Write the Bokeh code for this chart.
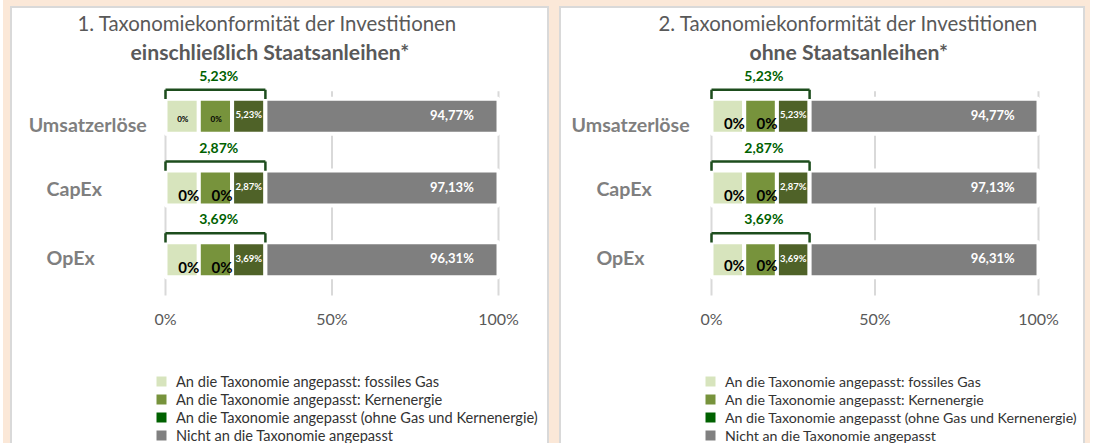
import numpy as np
from bokeh.plotting import figure
from bokeh.models import (Range1d, FactorRange, LinearAxis, FixedTicker, PrintfTickFormatter,
                          ColumnDataSource, Title, Legend, LegendItem)
from bokeh.transform import dodge
from bokeh.layouts import row, column
from bokeh.embed import file_html
from bokeh.resources import INLINE
from bokeh.core.properties import value

# ---------------- data ----------------
categories = ["Umsatzerlöse", "CapEx", "OpEx"]

# 1. incl. sovereign bonds
gas_1 = [0.0, 0.0, 0.0]
nuclear_1 = [0.0, 0.0, 0.0]
other_aligned_1 = [5.23, 2.87, 3.69]
not_aligned_1 = [94.77, 97.13, 96.31]

# 2. excl. sovereign bonds
gas_2 = [0.0, 0.0, 0.0]
nuclear_2 = [0.0, 0.0, 0.0]
other_aligned_2 = [5.23, 2.87, 3.69]
not_aligned_2 = [94.77, 97.13, 96.31]

series_names = [
    "An die Taxonomie angepasst: fossiles Gas",
    "An die Taxonomie angepasst: Kernenergie",
    "An die Taxonomie angepasst (ohne Gas und Kernenergie)",
    "Nicht an die Taxonomie angepasst",
]
tick_values = [0, 50, 100]
title_1 = ["1. Taxonomiekonformität der Investitionen", "einschließlich Staatsanleihen*"]
title_2 = ["2. Taxonomiekonformität der Investitionen", "ohne Staatsanleihen*"]

# ---------------- style ----------------
FONT = "Lato"
PEACH = "#FBE8D8"
FRAME_GREY = "#D9D9D9"
BAR_COLORS = ["#D7E4BD", "#77933C", "#4F6228", "#7F7F7F"]
LEGEND_COLORS = ["#D7E4BD", "#77933C", "#006100", "#808080"]
GREEN_TXT = "#006100"
BRACKET = "#1D4D1D"
SEG_SPAN = [10, 10, 10, 70]   # stylised drawn width of each stacked segment
CHART_H = 330
LEGEND_H = 105


def fmt(v):
    return "0%" if v == 0 else f"{v:.2f}".replace(".", ",") + "%"


def build(series, titles, cfg):
    canvas_left, canvas_w = cfg["canvas_left"], cfg["canvas_w"]
    zero_px, hundred_px = cfg["zero_px"], cfg["hundred_px"]
    scale = (hundred_px - zero_px) / 100.0
    fl, fr = canvas_left + 6, canvas_left + canvas_w - 6
    x_range = Range1d((fl - zero_px) / scale, (fr - zero_px) / scale)
    y_range = FactorRange(factors=list(reversed(categories)), range_padding=0.18,
                          range_padding_units="absolute")
    p = figure(width=canvas_w, height=CHART_H, x_range=x_range, y_range=y_range,
               x_axis_type=None, y_axis_type=None, output_backend="svg",
               toolbar_location=None, min_border_left=6, min_border_right=6,
               min_border_top=58, min_border_bottom=CHART_H - 58 - 242,
               background_fill_color="white", border_fill_color="white",
               outline_line_color=None, margin=(2, 2, 0, 2),
               styles={"background-color": "white"})

    # titles (first added sits closest to the plot)
    p.add_layout(Title(text=titles[1], align="left", offset=cfg["title_off"][1],
                       text_font=FONT, text_font_size="21.2px", text_font_style="bold",
                       text_color="#595959", standoff=5), "above")
    p.add_layout(Title(text=titles[0], align="left", offset=cfg["title_off"][0],
                       text_font=FONT, text_font_size="20.4px", text_font_style="normal",
                       text_color="#595959", standoff=0), "above")

    # x axis (labels only)
    ax = LinearAxis(ticker=FixedTicker(ticks=tick_values),
                    formatter=PrintfTickFormatter(format="%d%%"),
                    axis_line_color=None, major_tick_line_color=None,
                    minor_tick_line_color=None, major_tick_out=0, major_tick_in=0,
                    major_label_standoff=0, major_label_text_font=FONT,
                    major_label_text_font_size="16px", major_label_text_color="#595959")
    p.add_layout(ax, "below")

    # vertical gridlines
    gsrc = ColumnDataSource(dict(x=tick_values, top=[categories[0]] * len(tick_values),
                                 bot=[categories[-1]] * len(tick_values)))
    p.segment(x0="x", x1="x", y0=dodge("top", 0.35, range=y_range),
              y1=dodge("bot", -0.5, range=y_range), source=gsrc,
              line_color=FRAME_GREY, line_width=2)

    edges = np.concatenate([[0], np.cumsum(SEG_SPAN)]).tolist()
    for k, vals in enumerate(series):
        src = ColumnDataSource(dict(cat=categories, left=[edges[k]] * 3,
                                    right=[edges[k + 1]] * 3))
        p.hbar(y="cat", left="left", right="right", height=0.49, source=src,
               fill_color=BAR_COLORS[k], line_color="white", line_width=4)

    # zero labels in gas / nuclear segments
    for k in (0, 1):
        vals = series[k]
        sizes = list(cfg["zero_size"])
        big = [s != "8px" for s in sizes]
        src = ColumnDataSource(dict(
            cat=categories,
            x=[edges[k] + (7 if b else 5.2) for b in big],
            lab=[fmt(v) for v in vals],
            size=sizes,
            yoff=list(cfg["zero_yoff"])))
        p.text(x="x", y="cat", text="lab", source=src, text_font=value(FONT),
               text_font_size="size", text_font_style="bold", text_color="black",
               text_align="center", text_baseline="middle", y_offset="yoff")

    # other aligned label (dark segment)
    src = ColumnDataSource(dict(cat=categories, x=[(edges[2] + edges[3]) / 2] * 3,
                                lab=[fmt(v) for v in series[2]]))
    p.text(x="x", y=dodge("cat", 0.02, range=y_range), text="lab", source=src,
           text_font=value(FONT), text_font_size="9.5px", text_font_style="bold",
           text_color="white", text_align="center", text_baseline="middle")

    # not aligned label
    src = ColumnDataSource(dict(cat=categories, x=[edges[4] - 14] * 3,
                                lab=[fmt(v) for v in series[3]]))
    p.text(x="x", y=dodge("cat", 0.02, range=y_range), text="lab", source=src,
           text_font=value(FONT), text_font_size="13px", text_font_style="bold",
           text_color="white", text_align="center", text_baseline="middle")

    # brackets over the aligned part + total aligned share
    total_aligned = [g + n + o for g, n, o in zip(series[0], series[1], series[2])]
    bsrc = ColumnDataSource(dict(cat=categories, x0=[edges[0]] * 3, x1=[edges[3]] * 3,
                                 xm=[edges[3] / 2 + 1] * 3,
                                 lab=[fmt(v) for v in total_aligned]))
    top = dodge("cat", 0.37, range=y_range)
    leg = dodge("cat", 0.24, range=y_range)
    p.segment(x0="x0", x1="x1", y0=top, y1=top, source=bsrc, line_color=BRACKET, line_width=2.5)
    p.segment(x0="x0", x1="x0", y0=top, y1=leg, source=bsrc, line_color=BRACKET, line_width=2.5)
    p.segment(x0="x1", x1="x1", y0=top, y1=leg, source=bsrc, line_color=BRACKET, line_width=2.5)
    p.text(x="xm", y=dodge("cat", 0.57, range=y_range), text="lab", source=bsrc,
           text_font=value(FONT), text_font_size="14px", text_font_style="bold",
           text_color=GREEN_TXT, text_align="center", text_baseline="middle")

    # category labels
    csrc = ColumnDataSource(dict(cat=categories, x=list(cfg["cat_x"]), yoff=list(cfg["cat_yoff"])))
    p.text(x="x", y="cat", text="cat", source=csrc, text_font=value(FONT),
           text_font_size="19.6px", text_font_style="bold", text_color="#7F7F7F",
           text_align="left", text_baseline="middle", y_offset="yoff")

    # legend in its own strip below the chart
    lg = figure(width=canvas_w, height=LEGEND_H, x_range=Range1d(0, 1), y_range=Range1d(0, 1),
                x_axis_type=None, y_axis_type=None, output_backend="svg",
                toolbar_location=None, min_border=0, min_border_left=0, min_border_right=0,
                min_border_top=0, min_border_bottom=0, outline_line_color=None,
                background_fill_color="white", border_fill_color="white",
                margin=(0, 2, 0, 2), styles={"background-color": "white"})
    items = []
    for name, col in zip(series_names, LEGEND_COLORS):
        # legend proxy, parked outside the visible range; its white outline trims
        # the legend box down to a 10px square
        r = lg.hbar(y=[-5], left=[-5], right=[-4], height=0.1, fill_color=col,
                    line_color="white", line_width=4.4)
        items.append(LegendItem(label=name, renderers=[r]))
    legend = Legend(items=items, location=cfg["legend_loc"], glyph_width=18, glyph_height=18,
                    label_height=18, spacing=0, padding=0, margin=0, label_standoff=6,
                    border_line_color=None, background_fill_alpha=0,
                    label_text_font=FONT, label_text_font_size=cfg["legend_size"],
                    label_text_color="#333333")
    lg.add_layout(legend)
    return column(p, lg, spacing=0, styles={"background-color": FRAME_GREY})


cfg1 = dict(canvas_left=12, canvas_w=535, zero_px=165, hundred_px=498, title_off=[59, 112],
            zero_size=["8px", "15px", "15px"], zero_yoff=[3, 7, 7],
            cat_x=[-41.1, -35.7, -35.7], cat_yoff=[8, 0, -2],
            legend_loc=(134, -1), legend_size="14.6px")
cfg2 = dict(canvas_left=561, canvas_w=522, zero_px=711, hundred_px=1038, title_off=[91, 182],
            zero_size=["15px", "15px", "15px"], zero_yoff=[7, 7, 5],
            cat_x=[-42.8, -35.2, -35.2], cat_yoff=[8, 0, -2],
            legend_loc=(134, -1), legend_size="14.2px")

c1 = build([gas_1, nuclear_1, other_aligned_1, not_aligned_1], title_1, cfg1)
c2 = build([gas_2, nuclear_2, other_aligned_2, not_aligned_2], title_2, cfg2)
c1.margin = (6, 0, 0, 7)
c2.margin = (6, 5, 0, 10)

layout = row(c1, c2, spacing=0, margin=(0, 0, 0, 3),
             styles={"background-color": PEACH})

open("out.html", "w", encoding="utf-8").write(file_html(layout, INLINE))
